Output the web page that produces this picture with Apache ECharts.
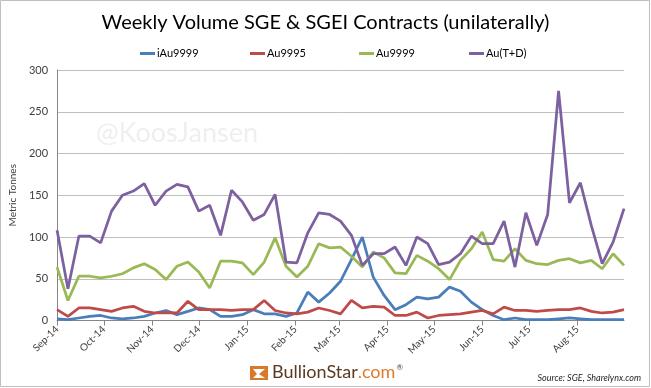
<!DOCTYPE html>
<html>
<head>
<meta charset="utf-8">
<script src="https://cdn.jsdelivr.net/npm/echarts@6/dist/echarts.min.js"></script>
<style>html,body{margin:0;padding:0;background:#fff}#c{width:651px;height:388px}</style>
</head>
<body>
<div id="c"></div>
<script>
const weeks = ['2014-09-01','2014-09-08','2014-09-15','2014-09-22','2014-09-29','2014-10-06','2014-10-13','2014-10-20','2014-10-27',
'2014-11-03','2014-11-10','2014-11-17','2014-11-24','2014-12-01','2014-12-08','2014-12-15','2014-12-22','2014-12-29',
'2015-01-05','2015-01-12','2015-01-19','2015-01-26','2015-02-02','2015-02-09','2015-02-16','2015-02-23',
'2015-03-02','2015-03-09','2015-03-16','2015-03-23','2015-03-30','2015-04-06','2015-04-13','2015-04-20','2015-04-27',
'2015-05-04','2015-05-11','2015-05-18','2015-05-25','2015-06-01','2015-06-08','2015-06-15','2015-06-22','2015-06-29',
'2015-07-06','2015-07-13','2015-07-20','2015-07-27','2015-08-03','2015-08-10','2015-08-17','2015-08-24','2015-08-31'];

const iAu9999 = [2,1,3,5,6,3,2,3,5,9,12,7,11,15,13,5,5,7,13,8,8,5,9,34,22,33,47,73,100,52,30,13,19,28,26,28,40,35,22,13,6,1,3,1,1,1,2,3,2,1,1,1,1];
const au9995 = [13,5,15,15,13,11,15,17,11,9,9,9,23,13,13,13,12,13,13,24,12,9,8,10,15,12,8,24,15,17,16,6,6,10,3,6,7,8,10,12,8,16,12,12,11,12,13,13,15,11,9,10,13];
const au9999 = [64,24,53,53,51,53,56,63,68,61,49,65,70,58,39,71,71,69,55,70,99,65,52,65,92,87,88,77,64,82,75,57,56,78,71,62,49,72,86,106,73,71,86,72,68,67,72,74,69,72,62,80,66];
const auTD = [108,38,101,101,93,131,150,155,164,138,155,163,160,131,138,102,156,142,120,127,151,70,69,105,129,127,119,102,66,80,80,88,66,100,92,67,70,80,101,92,92,119,64,129,90,127,275,141,165,114,68,94,134];

const seriesNames = ['iAu9999','Au9995','Au9999','Au(T+D)'];
const seriesValues = [iAu9999, au9995, au9999, auTD];
const seriesColors = ['#4A7EBB','#BE4B48','#98B954','#7D60A0'];
const yTicks = {min: 0, max: 300, interval: 50};
const monthNames = ['Jan','Feb','Mar','Apr','May','Jun','Jul','Aug','Sep','Oct','Nov','Dec'];

const chart = echarts.init(document.getElementById('c'), null, {renderer: 'canvas'});
const legendLefts = [135, 245, 354, 464];
const font = 'Lato, "Open Sans", sans-serif';

chart.setOption({
  animation: false,
  textStyle: {fontFamily: font},
  title: {
    text: 'Weekly Volume SGE & SGEI Contracts (unilaterally)',
    left: 'center', top: 8,
    textStyle: {fontFamily: font, fontSize: 20, fontWeight: 'normal', color: '#000'}
  },
  legend: seriesNames.map((n, i) => ({
    data: [n], left: legendLefts[i], top: 43,
    icon: 'rect', itemWidth: 15, itemHeight: 3, itemGap: 0,
    textStyle: {fontFamily: font, fontSize: 11, color: '#000', padding: [0,0,0,-3]}
  })),
  grid: {left: 50, right: 27, top: 70, bottom: 67.5},
  xAxis: {
    type: 'time',
    min: weeks[0], max: weeks[weeks.length - 1],
    minInterval: 28 * 86400000, maxInterval: 31 * 86400000,
    axisLine: {lineStyle: {color: '#868686', width: 1}},
    axisTick: {show: true, length: 5, lineStyle: {color: '#868686'}},
    splitLine: {show: false},
    axisLabel: {
      rotate: 45, fontSize: 10, color: '#404040', margin: 7, fontFamily: font,
      showMaxLabel: false,
      formatter: function (v) {
        const d = new Date(v);
        if (d.getDate() !== 1) return '';
        return monthNames[d.getMonth()] + '-' + String(d.getFullYear()).slice(2);
      }
    }
  },
  yAxis: {
    type: 'value', min: yTicks.min, max: yTicks.max, interval: yTicks.interval,
    name: 'Metric Tonnes', nameLocation: 'middle', nameGap: 32,
    nameTextStyle: {fontSize: 10, color: '#404040', fontFamily: font},
    axisLine: {show: true, lineStyle: {color: '#868686'}},
    axisTick: {show: false},
    splitLine: {lineStyle: {color: '#BFBFBF', width: 1}},
    axisLabel: {fontSize: 11, color: '#404040', margin: 9, fontFamily: font}
  },
  series: seriesNames.map((n, i) => ({
    name: n, type: 'line', symbol: 'none', showSymbol: false,
    data: weeks.map((w, k) => [w, seriesValues[i][k]]),
    lineStyle: {color: seriesColors[i], width: 2.75},
    itemStyle: {color: seriesColors[i]}
  })),
  graphic: [
    {type: 'rect', z: -1, shape: {x: 0.5, y: 0.5, width: 649, height: 386},
     style: {fill: 'none', stroke: '#BFBFBF', lineWidth: 1}},
    {type: 'text', left: 96, top: 120, z: 0,
     style: {text: '@KoosJansen', fontSize: 27, fontFamily: font, fill: '#EFEFEF'}},
    {type: 'group', left: 250, top: 363, children: [
      {type: 'rect', shape: {x: 0, y: 3, width: 18, height: 14}, style: {fill: '#D9792A'}},
      {type: 'polygon', shape: {points: [[3,6],[15,6],[9,11],[15,15],[3,15],[7,11]]}, style: {fill: '#fff'}},
      {type: 'text', x: 22, y: 0, style: {
        text: '{a|BullionStar}{b|.com}{c|®}', fontFamily: font,
        rich: {
          a: {fontSize: 18, fontFamily: font, fill: '#5C3A21', color: '#5C3A21'},
          b: {fontSize: 18, fontFamily: font, fill: '#E07B28', color: '#E07B28'},
          c: {fontSize: 8, fontFamily: font, fill: '#5C3A21', color: '#5C3A21', verticalAlign: 'top', padding: [0,0,10,1]}
        }
      }}
    ]},
    {type: 'text', right: 10, top: 374,
     style: {text: 'Source: SGE, Sharelynx.com', fontSize: 9, fontStyle: 'italic', fontFamily: font, fill: '#262626'}}
  ]
});
</script>
</body>
</html>
